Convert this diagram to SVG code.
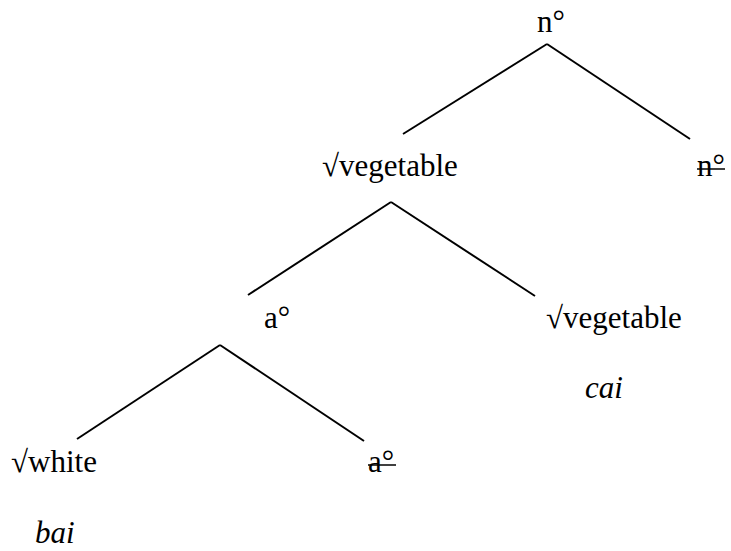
<svg xmlns="http://www.w3.org/2000/svg" width="731" height="551" viewBox="0 0 731 551">
<style>
text{font-family:"Liberation Serif","Times New Roman",serif;font-size:31px;fill:#000}
.it{font-style:italic}
line{stroke:#000;stroke-width:2;fill:none}
.strike{stroke-width:1.5}
</style>
<rect width="731" height="551" fill="#fff"/>
<g id="edges">
<line x1="547" y1="44" x2="403" y2="134"/>
<line x1="547" y1="44" x2="690" y2="139"/>
<line x1="391" y1="202" x2="248" y2="295"/>
<line x1="391" y1="202" x2="535" y2="296"/>
<line x1="220" y1="345" x2="77" y2="439"/>
<line x1="220" y1="345" x2="364" y2="441"/>
</g>
<g id="n-root"><text x="537" y="32">n°</text></g>
<g id="veg1"><text x="322" y="176">√vegetable</text></g>
<g id="n-del"><text x="697" y="176">n°</text><line class="strike" x1="697" y1="169" x2="725" y2="169"/></g>
<g id="a-node"><text x="264" y="328">a°</text></g>
<g id="veg2"><text x="546" y="328">√vegetable</text></g>
<g id="cai"><text x="585" y="398" class="it">cai</text></g>
<g id="white"><text x="11" y="472">√white</text></g>
<g id="a-del"><text x="368" y="472">a°</text><line class="strike" x1="368" y1="465" x2="396" y2="465"/></g>
<g id="bai"><text x="35" y="543" class="it">bai</text></g>
</svg>
